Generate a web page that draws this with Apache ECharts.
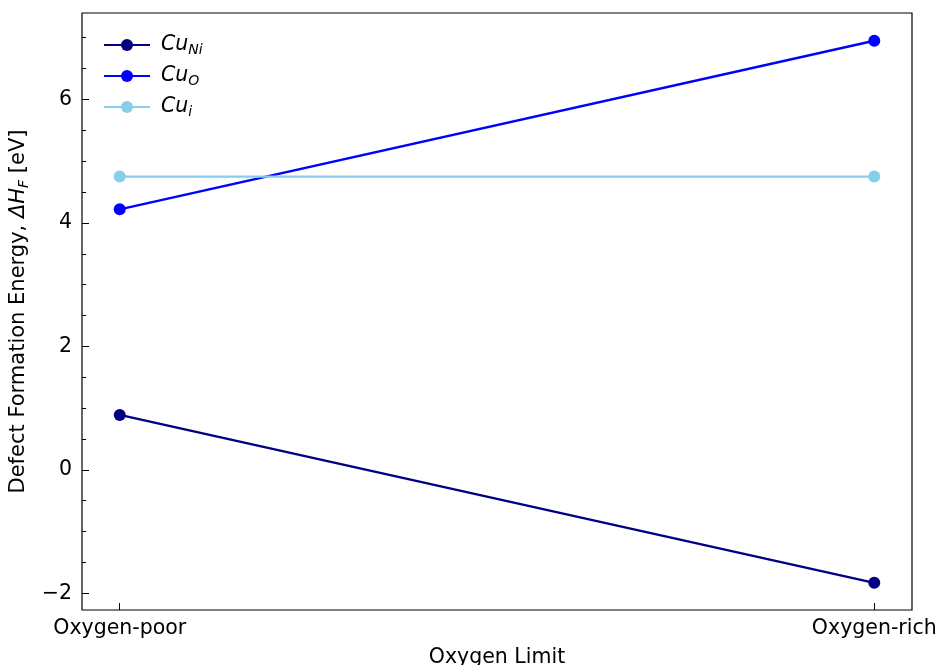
<!DOCTYPE html>
<html>
<head>
<meta charset="utf-8">
<script src="https://cdn.jsdelivr.net/npm/echarts@6/dist/echarts.min.js"></script>
<style>
  html, body { margin: 0; padding: 0; background: #fff; }
  #chart { width: 940px; height: 665px; }
</style>
</head>
<body>
<div id="chart"></div>
<script>
// Oxygen chemical-potential limits along the x axis
const limits = ['Oxygen-poor', 'Oxygen-rich'];
// Formation energies (eV) of Cu defects at each limit
const cuNi = [0.89, -1.83];
const cuO = [4.22, 6.95];
const cuI = [4.75, 4.75];
// Y tick values
const yMajor = [-2, 0, 2, 4, 6];
const yMinor = [-2, -1.5, -1, -0.5, 0, 0.5, 1, 1.5, 2, 2.5, 3, 3.5, 4, 4.5, 5, 5.5, 6, 6.5, 7];

const seriesDefs = [
  { name: 'CuNi', label: '{m|Cu}{s|Ni}', values: cuNi, color: '#000080' },
  { name: 'CuO', label: '{m|Cu}{s|O}', values: cuO, color: '#0000ff' },
  { name: 'Cui', label: '{m|Cu}{s|i}', values: cuI, color: '#87ceeb' }
];

const font = 'DejaVu Sans';
const fs = 20.5;
const chart = echarts.init(document.getElementById('chart'), null, { renderer: 'canvas' });

const fmtNum = v => (v < 0 ? '\u2212' + Math.abs(v) : String(v));

chart.setOption({
  animation: false,
  backgroundColor: '#fff',
  textStyle: { fontFamily: font },
  grid: {
    left: 82, right: 28, top: 13, bottom: 55,
    outerBoundsMode: 'none', containLabel: false,
    show: true, borderColor: '#000', borderWidth: 1.2, backgroundColor: 'transparent'
  },
  legend: {
    left: 98, top: 30, orient: 'vertical',
    itemWidth: 46, itemHeight: 15, itemGap: 9,
    data: seriesDefs.map(d => d.name),
    formatter: name => seriesDefs.find(d => d.name === name).label,
    textStyle: {
      fontFamily: font,
      rich: {
        m: { fontSize: fs, fontStyle: 'italic', fontFamily: font, color: '#000', padding: [0, 0, 0, 6] },
        s: { fontSize: 14, fontStyle: 'italic', fontFamily: font, color: '#000', padding: [10, 0, 0, 0] }
      }
    }
  },
  xAxis: {
    type: 'value', min: -0.05, max: 1.05,
    name: 'Oxygen Limit', nameLocation: 'middle', nameGap: 37,
    nameTextStyle: { fontSize: fs, color: '#000', fontFamily: font },
    axisLine: { show: false, onZero: false },
    splitLine: { show: false },
    axisTick: { show: true, inside: true, length: 7, customValues: [0, 1], lineStyle: { color: '#000', width: 1 } },
    axisLabel: {
      customValues: [0, 1], formatter: v => limits[Math.round(v)],
      fontSize: fs, color: '#000', margin: 8, fontFamily: font
    }
  },
  yAxis: [
    {
      type: 'value', min: -2.27, max: 7.40,
      name: '{n|Defect Formation Energy, }{it|\u0394H}{sub|F}{n| [eV]}',
      nameLocation: 'middle', nameGap: 50, nameRotate: 90,
      nameTextStyle: {
        fontFamily: font, color: '#000',
        rich: {
          n: { fontSize: 21, fontFamily: font, color: '#000' },
          it: { fontSize: 21, fontStyle: 'italic', fontFamily: font, color: '#000' },
          sub: { fontSize: 14, fontStyle: 'italic', fontFamily: font, color: '#000', padding: [10, 0, 0, 0] }
        }
      },
      axisLine: { show: false, onZero: false },
      splitLine: { show: false },
      axisTick: { show: true, inside: true, length: 7, customValues: yMajor, lineStyle: { color: '#000', width: 1 } },
      axisLabel: { customValues: yMajor, formatter: fmtNum, fontSize: fs, color: '#000', margin: 10, fontFamily: font }
    },
    {
      type: 'value', min: -2.27, max: 7.40, position: 'left',
      axisLine: { show: false, onZero: false },
      splitLine: { show: false },
      axisTick: { show: true, inside: true, length: 4, customValues: yMinor, lineStyle: { color: '#000', width: 1 } },
      axisLabel: { show: false }
    }
  ],
  series: seriesDefs.map(d => ({
    name: d.name,
    type: 'line',
    data: d.values.map((v, i) => [i, v]),
    symbol: 'circle', symbolSize: 12,
    lineStyle: { color: d.color, width: 2.4 },
    itemStyle: { color: d.color },
    z: 3
  }))
});
</script>
</body>
</html>
